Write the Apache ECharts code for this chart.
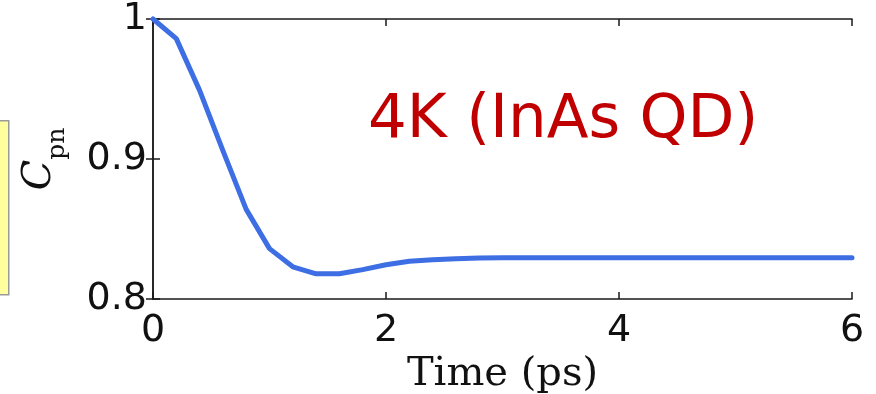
<!DOCTYPE html>
<html>
<head>
<meta charset="utf-8">
<script src="https://cdn.jsdelivr.net/npm/echarts@6/dist/echarts.min.js"></script>
<style>
  html, body { margin: 0; padding: 0; background: #fff; }
  #chart { width: 876px; height: 394px; }
</style>
</head>
<body>
<div id="chart"></div>
<script>
// Correlation C_pn versus time for an InAs quantum dot at 4 K
const timePs = [0, 0.2, 0.4, 0.6, 0.8, 1.0, 1.2, 1.4, 1.6, 1.8, 2.0, 2.2, 2.4, 2.6, 2.8, 3.0,
                3.5, 4.0, 4.5, 5.0, 5.5, 6.0];
const cpn = [1.0, 0.986, 0.949, 0.906, 0.864, 0.836, 0.823, 0.818, 0.818, 0.821, 0.8245, 0.827, 0.828, 0.8288, 0.8292, 0.8294,
             0.8295, 0.8295, 0.8295, 0.8295, 0.8295, 0.8295];
const xTicks = [0, 2, 4, 6];
const yTicks = [0.8, 0.9, 1];
const annotation = '4K (InAs QD)';

const axisColor = '#1a1a1a';
const tickFont = { fontFamily: 'DejaVu Sans', fontSize: 38, color: '#111' };

const chart = echarts.init(document.getElementById('chart'));
chart.setOption({
  animation: false,
  backgroundColor: '#fff',
  grid: { left: 153, top: 19, right: 24, bottom: 95, containLabel: false, outerBoundsMode: 'none' },
  xAxis: [
    {
      type: 'value', min: xTicks[0], max: xTicks[xTicks.length - 1], interval: 2,
      position: 'bottom',
      name: 'Time (ps)', nameLocation: 'middle', nameGap: 56,
      nameTextStyle: { fontFamily: 'DejaVu Serif', fontSize: 40, color: '#111' },
      axisLine: { show: true, lineStyle: { color: axisColor, width: 1.5 } },
      axisTick: { show: true, inside: true, length: 7, lineStyle: { color: axisColor, width: 1.5 } },
      axisLabel: Object.assign({ margin: 13, formatter: v => String(v) }, tickFont),
      splitLine: { show: false }
    },
    {
      type: 'value', min: xTicks[0], max: xTicks[xTicks.length - 1], interval: 2,
      position: 'top',
      axisLine: { show: true, lineStyle: { color: axisColor, width: 1.5 } },
      axisTick: { show: true, inside: true, length: 7, lineStyle: { color: axisColor, width: 1.5 } },
      axisLabel: { show: false },
      splitLine: { show: false }
    }
  ],
  yAxis: [
    {
      type: 'value', min: yTicks[0], max: yTicks[yTicks.length - 1], interval: 0.1,
      position: 'left',
      name: '{c|C}{s|pn}', nameLocation: 'middle', nameRotate: 90, nameGap: 93,
      nameTextStyle: {
        rich: {
          c: { fontFamily: 'DejaVu Serif', fontStyle: 'italic', fontSize: 40, color: '#111', verticalAlign: 'bottom' },
          s: { fontFamily: 'DejaVu Serif', fontSize: 25, color: '#111', verticalAlign: 'bottom', padding: [0, 0, -10, 0] }
        }
      },
      axisLine: { show: true, lineStyle: { color: axisColor, width: 1.5 } },
      axisTick: { show: true, inside: true, length: 7, lineStyle: { color: axisColor, width: 1.5 } },
      axisLabel: Object.assign({ margin: 6, formatter: v => (v === 1 ? '1' : v.toFixed(1)) }, tickFont),
      splitLine: { show: false }
    },
    {
      type: 'value', min: yTicks[0], max: yTicks[yTicks.length - 1], interval: 0.1,
      position: 'right',
      axisLine: { show: true, lineStyle: { color: axisColor, width: 1.5 } },
      axisTick: { show: true, inside: true, length: 7, lineStyle: { color: axisColor, width: 1.5 } },
      axisLabel: { show: false },
      splitLine: { show: false }
    }
  ],
  series: [
    {
      type: 'line',
      xAxisIndex: 0, yAxisIndex: 0,
      data: timePs.map((t, i) => [t, cpn[i]]),
      showSymbol: false,
      smooth: false,
      clip: false,
      lineStyle: { color: '#3d6ee3', width: 5, cap: 'round', join: 'round' },
      z: 3
    }
  ],
  graphic: [
    {
      type: 'rect', left: -2, top: 120,
      shape: { width: 10, height: 174 },
      style: { fill: '#ffff9e', stroke: '#9a9a9a', lineWidth: 1.5 },
      silent: true
    },
    {
      type: 'text', left: 368, top: 91,
      style: { text: annotation, fontFamily: 'DejaVu Sans', fontSize: 61, fill: '#c00000' },
      silent: true
    }
  ]
});
</script>
</body>
</html>
